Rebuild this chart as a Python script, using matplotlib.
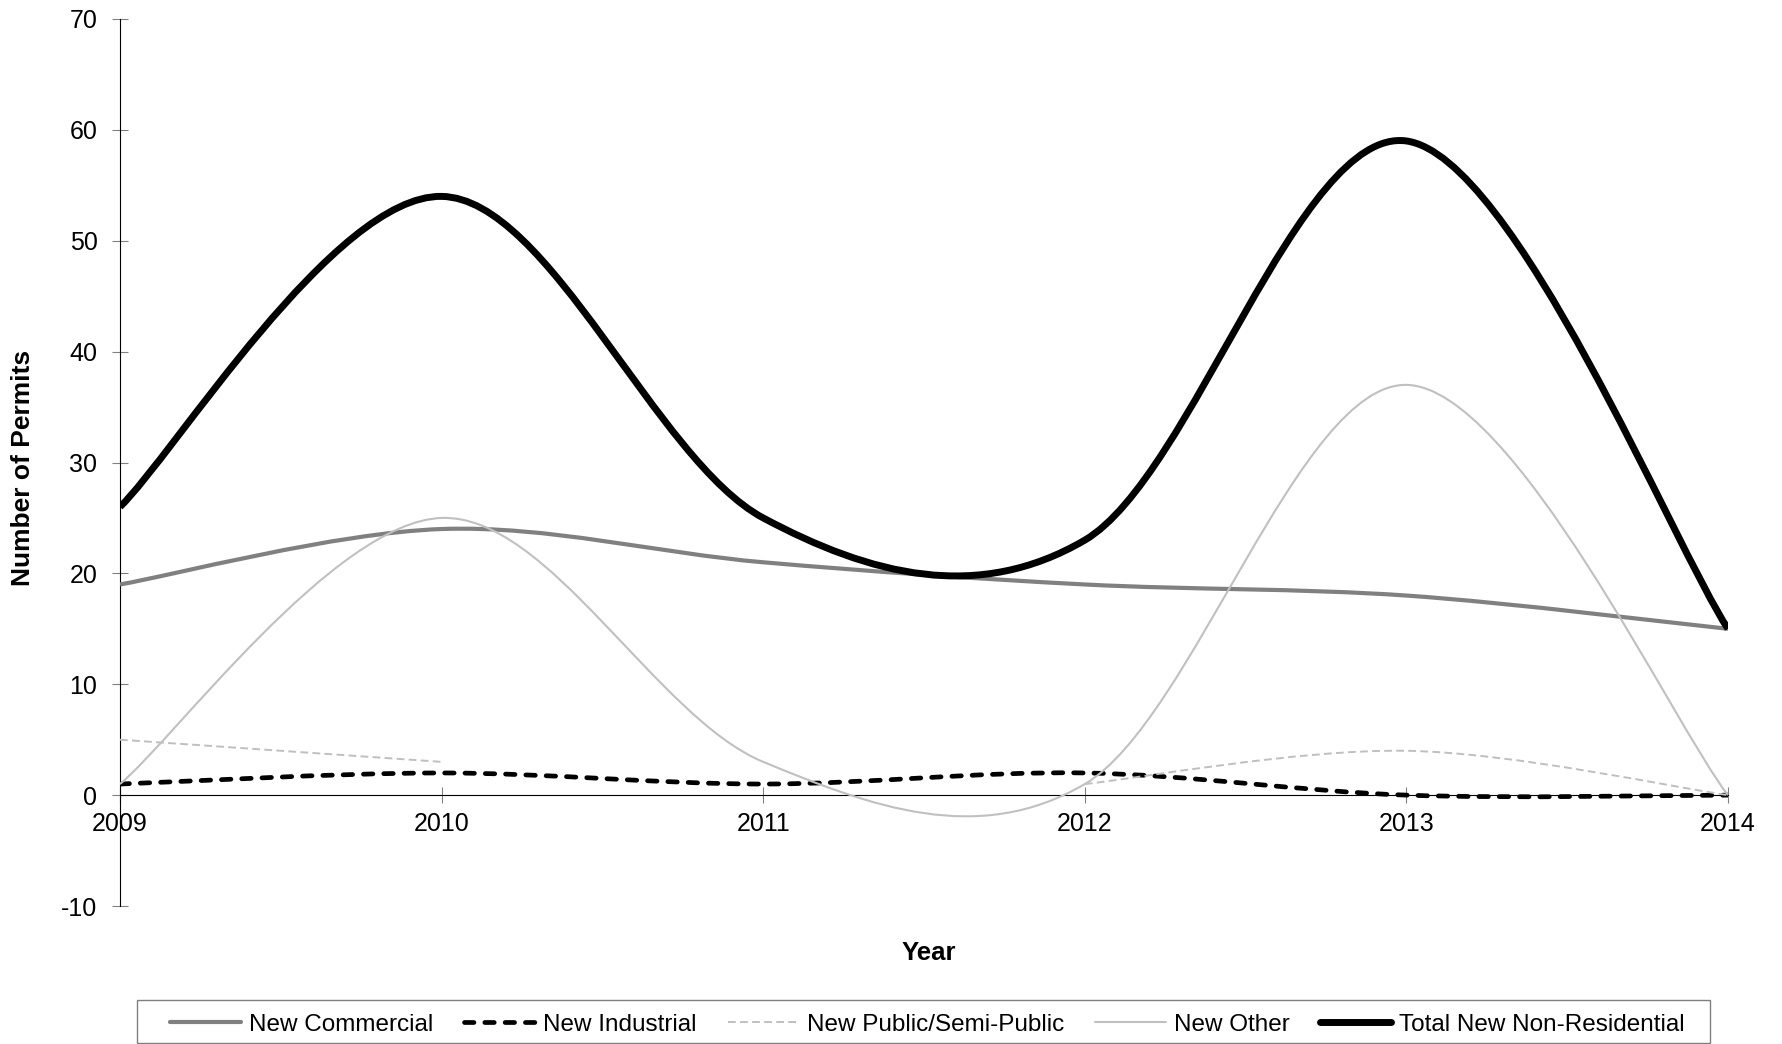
import matplotlib

matplotlib.use("Agg")
import matplotlib.pyplot as plt
import numpy as np
from matplotlib.lines import Line2D
from matplotlib.patches import PathPatch, Rectangle
from matplotlib.path import Path

plt.rcParams["font.family"] = ["Liberation Sans", "DejaVu Sans"]
plt.rcParams["axes.unicode_minus"] = False

YEARS = [2009, 2010, 2011, 2012, 2013, 2014]
COMMERCIAL = [19, 24, 21, 19, 18, 15]
INDUSTRIAL = [1, 2, 1, 2, 0, 0]
PUBLIC = [5, 3, np.nan, 1, 4, 0]
OTHER = [1, 25, 3, 1, 37, 0]
TOTAL = [26, 54, 25, 23, 59, 15]

Y_TICKS = list(range(-10, 71, 10))

# label, values, colour, width (pt), dash pattern or None
SERIES = [
    ("New Commercial", COMMERCIAL, "#808080", 3.0, None),
    ("New Industrial", INDUSTRIAL, "#000000", 3.4, (2.0, 2.3)),
    ("New Public/Semi-Public", PUBLIC, "#BFBFBF", 1.4, (4.0, 2.2)),
    ("New Other", OTHER, "#C0C0C0", 1.5, None),
    ("Total New Non-Residential", TOTAL, "#000000", 5.0, None),
]


def smooth_path(xs, ys):
    # Excel-style smoothed line: cubic Bezier segments through the points
    n = len(xs)
    verts = [(xs[0], ys[0])]
    codes = [Path.MOVETO]
    for i in range(n - 1):
        a = i - 1 if i > 0 else i
        d = i + 2 if i + 2 < n else i + 1
        c1 = (xs[i] + (xs[i + 1] - xs[a]) / 6, ys[i] + (ys[i + 1] - ys[a]) / 6)
        c2 = (xs[i + 1] - (xs[d] - xs[i]) / 6, ys[i + 1] - (ys[d] - ys[i]) / 6)
        verts += [c1, c2, (xs[i + 1], ys[i + 1])]
        codes += [Path.CURVE4] * 3
    return Path(verts, codes)


def runs(xs, ys):
    # split a series at missing values
    out, cur = [], []
    for x, y in zip(xs, ys):
        if np.isnan(y):
            if cur:
                out.append(cur)
            cur = []
        else:
            cur.append((x, y))
    if cur:
        out.append(cur)
    return out


W, H = 1782, 1044
fig = plt.figure(figsize=(W / 100, H / 100), dpi=100)
ax = fig.add_axes([120 / W, 1 - 906 / H, 1608 / W, 887 / H])

handles = []
for z, (label, values, color, lw, dashes) in enumerate(SERIES):
    ls = (0, dashes) if dashes else "-"
    for run in runs(YEARS, np.asarray(values, dtype=float)):
        xs = [p[0] for p in run]
        ys = [p[1] for p in run]
        patch = PathPatch(
            smooth_path(xs, ys),
            fill=False,
            edgecolor=color,
            linewidth=lw,
            linestyle=ls,
            capstyle="round" if label == "New Industrial" else "butt",
            joinstyle="round",
            zorder=3 + z,
        )
        ax.add_patch(patch)
    handles.append(
        Line2D(
            [], [], color=color, linewidth=lw, linestyle=ls,
            solid_capstyle="round", dash_capstyle="round" if label == "New Industrial" else "butt",
            label=label,
        )
    )

ax.set_xlim(2009, 2014)
ax.set_ylim(-10, 70)
ax.set_xticks(YEARS)
ax.set_yticks(Y_TICKS)
ax.spines["top"].set_visible(False)
ax.spines["right"].set_visible(False)
ax.spines["bottom"].set_position(("data", 0))
for side in ["left", "bottom"]:
    ax.spines[side].set_color("black")
    ax.spines[side].set_linewidth(0.8)
    ax.spines[side].set_zorder(2)

ax.tick_params(axis="y", direction="inout", length=11.5, width=0.8, color="#808080",
               labelsize=18, pad=10.5)
ax.tick_params(axis="x", direction="inout", length=11.0, width=0.8, color="#808080",
               labelsize=18, pad=7)

fig.text(23 / W, 1 - 468 / H, "Number of Permits", rotation=90, ha="center", va="center",
         fontsize=19, fontweight="bold")
fig.text(929 / W, 1 - 953 / H, "Year", ha="center", va="center", fontsize=18.5,
         fontweight="bold")

fig.patches.append(
    Rectangle((137 / W, 1 - 1043 / H), (1710 - 137) / W, 43 / H, transform=fig.transFigure,
              fill=False, edgecolor="#808080", linewidth=1.0)
)
fig.legend(
    handles=handles,
    loc="center",
    bbox_to_anchor=(927.5 / W, 1 - 1024.5 / H),
    ncol=5,
    frameon=False,
    fontsize=17.5,
    handlelength=2.92,
    handletextpad=0.33,
    columnspacing=1.27,
    borderpad=0.2,
)

fig.savefig("out.png", dpi=100)
